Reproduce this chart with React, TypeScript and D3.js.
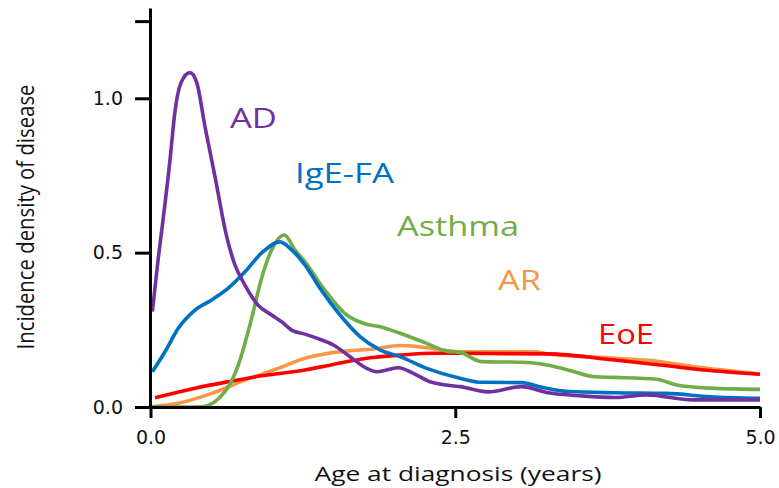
import React, { useEffect, useRef } from "react";
import * as d3 from "d3";

// [age in years, incidence density]
const adPoints: [number, number][] = [
  [0.015, 0.309], [0.064, 0.483], [0.086, 0.552], [0.16, 0.8], [0.2, 0.955],
  [0.25, 1.05], [0.324, 1.083], [0.38, 1.05], [0.447, 0.908], [0.529, 0.746],
  [0.625, 0.552], [0.693, 0.46], [0.775, 0.395], [0.882, 0.33], [0.994, 0.298],
  [1.076, 0.276], [1.158, 0.249], [1.267, 0.236], [1.363, 0.223], [1.5, 0.201],
  [1.637, 0.163], [1.774, 0.125], [1.856, 0.114], [1.938, 0.12], [2.033, 0.127],
  [2.156, 0.109], [2.293, 0.082], [2.43, 0.071], [2.539, 0.066], [2.771, 0.049],
  [3.045, 0.066], [3.263, 0.046], [3.537, 0.036], [3.81, 0.031], [4.07, 0.039],
  [4.453, 0.023], [5.0, 0.023],
];

const igeFaPoints: [number, number][] = [
  [0.015, 0.114], [0.119, 0.179], [0.228, 0.255], [0.365, 0.314], [0.502, 0.347],
  [0.638, 0.385], [0.775, 0.438], [0.912, 0.499], [1.062, 0.535], [1.158, 0.509],
  [1.267, 0.46], [1.39, 0.385], [1.555, 0.298], [1.719, 0.228], [1.883, 0.185],
  [2.047, 0.163], [2.266, 0.125], [2.539, 0.093], [2.717, 0.08], [3.045, 0.079],
  [3.209, 0.064], [3.427, 0.05], [3.81, 0.046], [4.235, 0.044], [4.59, 0.033],
  [5.0, 0.028],
];

const asthmaPoints: [number, number][] = [
  [0.0, 0.0], [0.3, 0.0], [0.42, 0.001], [0.611, 0.05], [0.72, 0.136],
  [0.83, 0.288], [0.912, 0.418], [0.994, 0.509], [1.098, 0.557], [1.185, 0.509],
  [1.267, 0.471], [1.418, 0.385], [1.61, 0.298], [1.774, 0.268], [1.883, 0.26],
  [2.047, 0.239], [2.266, 0.206], [2.43, 0.181], [2.539, 0.177], [2.717, 0.147],
  [3.045, 0.145], [3.209, 0.139], [3.425, 0.12], [3.646, 0.098], [3.81, 0.096],
  [4.153, 0.09], [4.317, 0.071], [4.59, 0.061], [5.0, 0.057],
];

const arPoints: [number, number][] = [
  [0.01, 0.001], [0.228, 0.012], [0.502, 0.044], [0.775, 0.087], [1.048, 0.125],
  [1.267, 0.158], [1.418, 0.171], [1.61, 0.181], [1.828, 0.188], [2.047, 0.199],
  [2.266, 0.192], [2.539, 0.179], [3.154, 0.179], [3.261, 0.172], [3.81, 0.158],
  [4.122, 0.15], [4.45, 0.131], [5.0, 0.107],
];

const eoePoints: [number, number][] = [
  [0.037, 0.03], [0.365, 0.061], [0.638, 0.082], [0.912, 0.101], [1.267, 0.12],
  [1.5, 0.138], [1.774, 0.158], [2.047, 0.168], [2.32, 0.174], [2.539, 0.174],
  [3.261, 0.172], [3.81, 0.152], [4.18, 0.136], [4.59, 0.118], [5.0, 0.106],
];

const seriesNames = ["AR", "EoE", "Asthma", "IgE-FA", "AD"];
const seriesData = [arPoints, eoePoints, asthmaPoints, igeFaPoints, adPoints];
const seriesColors = ["#F79646", "#FF0000", "#70AD47", "#0070C0", "#7030A0"];

// where each name sits, in data units (left edge, baseline)
const labelAge = [2.851, 3.671, 2.022, 1.185, 0.652];
const labelDensity = [0.379, 0.204, 0.554, 0.724, 0.904];
const labelWidths = [43, 56, 122, 99, 47];

const xTicks = [0, 2.5, 5];
const yTicks = [0, 0.5, 1.0, 1.25];

const W = 779;
const H = 488;

export default function App() {
  const ref = useRef<SVGSVGElement>(null);

  useEffect(() => {
    const svg = d3.select(ref.current);
    svg.selectAll("*").remove();

    const x = d3.scaleLinear().domain([0, 5]).range([150.5, 760]);
    const y = d3.scaleLinear().domain([0, 1.2925]).range([407, 8]);

    const line = d3
      .line<[number, number]>()
      .x((d) => x(d[0]))
      .y((d) => y(d[1]))
      .curve(d3.curveMonotoneX);

    svg
      .append("g")
      .selectAll("path")
      .data(seriesData)
      .join("path")
      .attr("fill", "none")
      .attr("stroke", (_, i) => seriesColors[i])
      .attr("stroke-width", 3.6)
      .attr("stroke-linejoin", "round")
      .attr("d", (d) => line(d));

    // axes
    const yAxis = svg
      .append("g")
      .attr("transform", "translate(150,0)")
      .call(
        d3
          .axisLeft(y)
          .tickValues(yTicks)
          .tickSize(15)
          .tickSizeOuter(0)
          .tickPadding(12)
          .tickFormat((d) => (+d === 1.25 ? "" : d3.format(".1f")(+d)))
      );

    const xAxis = svg
      .append("g")
      .attr("transform", "translate(0,407)")
      .call(
        d3
          .axisBottom(x)
          .tickValues(xTicks)
          .tickSize(11)
          .tickSizeOuter(0)
          .tickPadding(13)
          .tickFormat((d) => d3.format(".1f")(+d))
      );

    [yAxis, xAxis].forEach((g) => {
      g.selectAll("path, line").attr("stroke", "#000").attr("stroke-width", 3);
      g.selectAll("text")
        .attr("fill", "#111")
        .style("font-family", "'DejaVu Sans', Verdana, sans-serif")
        .style("font-size", "19px");
    });

    // series names
    svg
      .append("g")
      .selectAll("text")
      .data(seriesNames)
      .join("text")
      .attr("x", (_, i) => x(labelAge[i]))
      .attr("y", (_, i) => y(labelDensity[i]))
      .attr("fill", (_, i) => seriesColors[i])
      .attr("textLength", (_, i) => labelWidths[i])
      .attr("lengthAdjust", "spacingAndGlyphs")
      .style("font-family", "'Open Sans', sans-serif")
      .style("font-size", "28px")
      .text((d) => d);

    svg
      .append("text")
      .attr("x", 458)
      .attr("y", 481)
      .attr("text-anchor", "middle")
      .attr("textLength", 287)
      .attr("lengthAdjust", "spacingAndGlyphs")
      .attr("fill", "#111")
      .style("font-family", "'Open Sans', sans-serif")
      .style("font-size", "20px")
      .text("Age at diagnosis (years)");

    svg
      .append("text")
      .attr("transform", "translate(34,217) rotate(-90)")
      .attr("text-anchor", "middle")
      .attr("textLength", 265)
      .attr("lengthAdjust", "spacingAndGlyphs")
      .attr("fill", "#111")
      .style("font-family", "'Open Sans', sans-serif")
      .style("font-size", "23px")
      .text("Incidence density of disease");
  }, []);

  return (
    <div style={{ position: "absolute", left: 0, top: 0 }}>
      <svg ref={ref} width={W} height={H} style={{ display: "block", background: "#fff" }} />
    </div>
  );
}
